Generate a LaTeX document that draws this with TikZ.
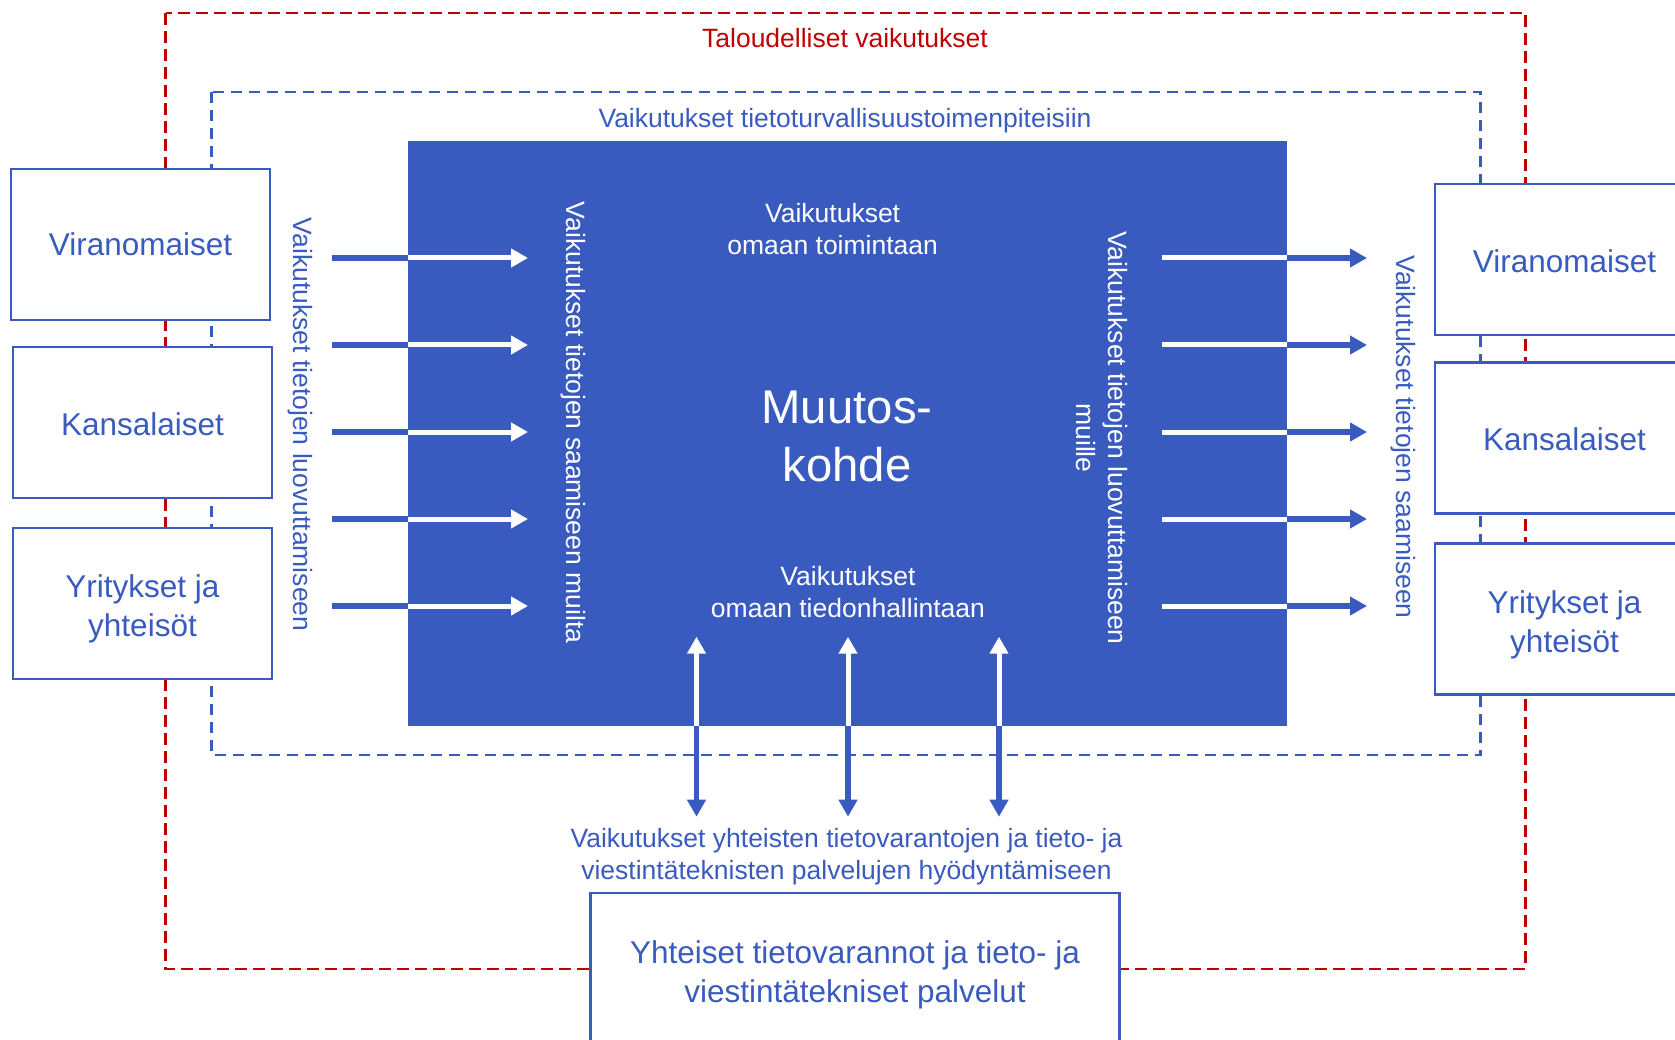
\documentclass[tikz,border=0pt]{standalone}
\usepackage{fontspec}
\setmainfont{Liberation Sans}
\usetikzlibrary{arrows.meta}
\definecolor{mblue}{RGB}{57,91,191}
\definecolor{mred}{RGB}{192,0,0}
\begin{document}
\begin{tikzpicture}[x=1pt,y=-1pt,
  small/.style={font=\fontsize{26.5}{32}\selectfont},
  big/.style={font=\fontsize{31.5}{38.5}\selectfont},
  huge/.style={font=\fontsize{47.3}{58}\selectfont},
  box/.style={draw=mblue, line width=2.5pt, fill=white, minimum width=259pt, minimum height=151pt, inner sep=0pt},
  boxtext/.style={inner sep=0pt, align=center, text=mblue, big},
  lbl/.style={inner sep=0pt, align=center},
  reddash/.style={draw=mred, line width=2.5pt, dash pattern=on 12pt off 6pt},
  bluedash/.style={draw=mblue, line width=2.5pt, dash pattern=on 11pt off 7pt},
  shaftb/.style={draw=mblue, line width=5.5pt},
  shaftw/.style={draw=white, line width=5pt},
  tip/.style={-{Triangle[length=17pt,width=18pt]}},
  dtip/.style={{Triangle[length=17pt,width=18pt]}-},
]
\useasboundingbox (0,0) rectangle (1675,1040);
\clip (0,0) rectangle (1675,1040);
% dashed frames
\draw[reddash] (165.6,12.8) rectangle (1525.5,969);
\draw[bluedash] (211.5,92) rectangle (1480.6,755);
\node[lbl, small, text=mred] (econ) at (845,38.5) {Taloudelliset vaikutukset};
\node[lbl, small, text=mblue] (sec) at (845,120.7) {Vaikutukset tietoturvallisuustoimenpiteisiin};
% main block
\node[fill=mblue, minimum width=879pt, minimum height=585pt, inner sep=0pt] (main) at (847.5,433.5) {};
% left boxes
\node[box] (lv) at (140.5,244.5) {};
\node[boxtext] (lvt) at (140.5,244.6) {Viranomaiset};
\node[box] (lk) at (142.5,422.5) {};
\node[boxtext] (lkt) at (142.5,424.5) {Kansalaiset};
\node[box] (ly) at (142.5,603.5) {};
\node[boxtext] (lyt) at (142.5,608.8) {Yritykset ja\\yhteisöt};
% right boxes
\node[box] (rv) at (1564.5,259.5) {};
\node[boxtext] (rvt) at (1564.5,261.6) {Viranomaiset};
\node[box] (rk) at (1564.5,438) {};
\node[boxtext] (rkt) at (1564.5,439) {Kansalaiset};
\node[box] (ry) at (1564.5,619) {};
\node[boxtext] (ryt) at (1564.5,625) {Yritykset ja\\yhteisöt};
% bottom box
\node[box, minimum width=529pt, minimum height=154pt] (shared) at (855,970) {};
\node[boxtext] (sharedt) at (855,974.8) {Yhteiset tietovarannot ja tieto- ja\\viestintätekniset palvelut};
% horizontal arrows
\foreach \y [count=\i] in {258,345,432,519,606} {
  \coordinate (la\i s) at (332,\y);
  \coordinate (la\i m) at (408,\y);
  \coordinate (la\i e) at (528,\y);
  \draw[shaftb] (la\i s) -- (la\i m);
  \draw[shaftw, tip] (la\i m) -- (la\i e);
  \coordinate (ra\i s) at (1162,\y);
  \coordinate (ra\i m) at (1287,\y);
  \coordinate (ra\i e) at (1367,\y);
  \draw[shaftw] (ra\i s) -- (ra\i m);
  \draw[shaftb, tip] (ra\i m) -- (ra\i e);
}
% vertical double arrows
\foreach \x [count=\i] in {696.5,848,999} {
  \coordinate (va\i t) at (\x,636.7);
  \coordinate (va\i m) at (\x,726);
  \coordinate (va\i b) at (\x,816.7);
  \draw[shaftw, dtip] (va\i t) -- (va\i m);
  \draw[shaftb, tip] (va\i m) -- (va\i b);
}
% texts
\node[lbl, small, text=mblue, rotate=-90] (lout) at (300,424.6) {Vaikutukset tietojen luovuttamiseen};
\node[lbl, small, text=white, rotate=-90] (lin) at (573.7,422.6) {Vaikutukset tietojen saamiseen muilta};
\node[lbl, small, text=white, rotate=-90] (rin) at (1102,438) {Vaikutukset tietojen luovuttamiseen\\muille};
\node[lbl, small, text=mblue, rotate=-90] (rout) at (1403,437) {Vaikutukset tietojen saamiseen};
\node[lbl, small, text=white] (own) at (832.6,228.6) {Vaikutukset\\omaan toimintaan};
\node[lbl, huge, text=white] (target) at (847,436) {Muutos-\\kohde};
\node[lbl, small, text=white] (owninfo) at (848,592) {Vaikutukset\\omaan tiedonhallintaan};
\node[lbl, small, text=mblue] (use) at (846.5,856.7) {Vaikutukset yhteisten tietovarantojen ja tieto- ja\\viestintäteknisten palvelujen hyödyntämiseen};
\end{tikzpicture}
\end{document}
